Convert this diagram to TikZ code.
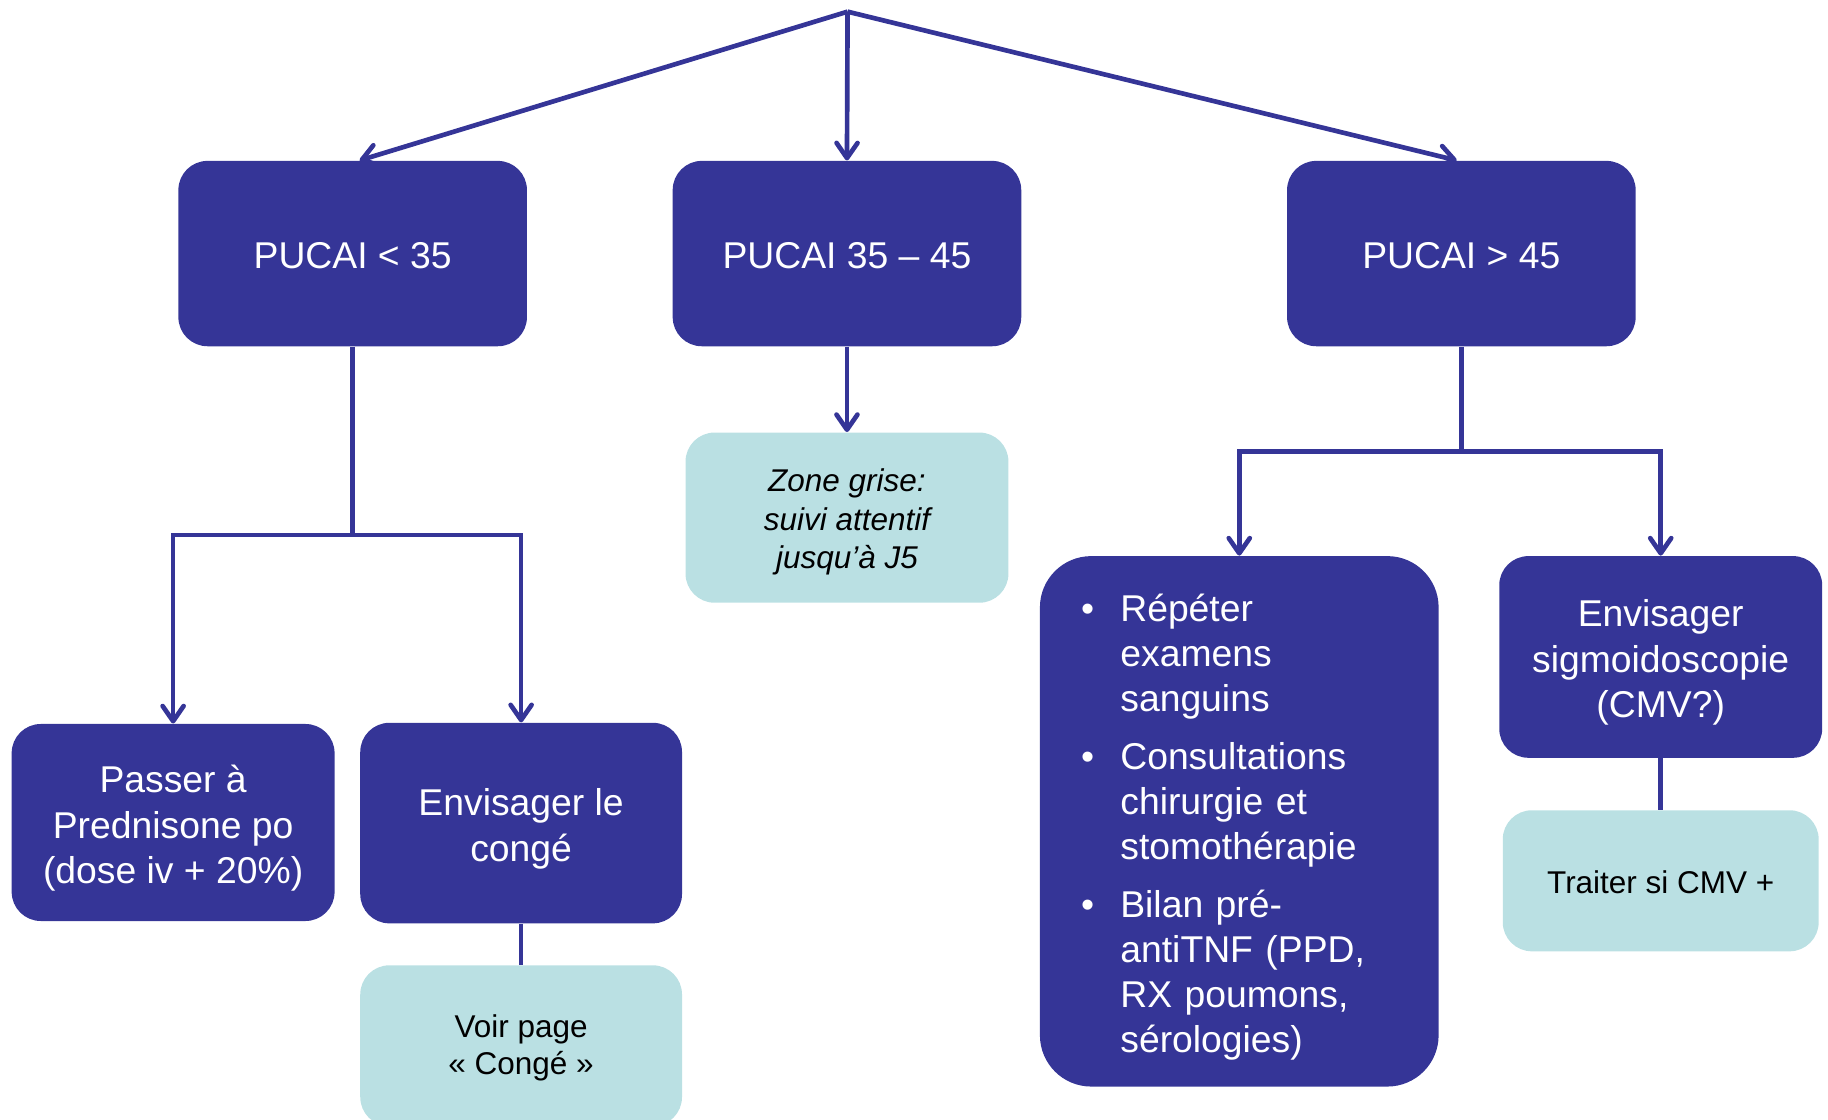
\documentclass[tikz,border=0pt]{standalone}
\usepackage{fontspec}
\setmainfont{Liberation Sans}
\usetikzlibrary{arrows.meta,calc}
\definecolor{navyb}{RGB}{53,53,151}
\definecolor{lteal}{RGB}{186,224,227}
\begin{document}
\begin{tikzpicture}[x=0.5pt,y=-0.5pt,
  dark/.style={rectangle, rounded corners=12.5pt, fill=navyb, inner sep=0pt},
  light/.style={rectangle, rounded corners=12.5pt, fill=lteal, inner sep=0pt},
  darktext/.style={text=white, align=center, inner sep=0pt, font=\fontsize{16}{19.5}\selectfont},
  lighttext/.style={text=black, align=center, inner sep=0pt, font=\fontsize{13.5}{16}\selectfont},
  conn/.style={draw=navyb, line width=2pt},
  arr/.style={conn, -{Straight Barb[length=6.5pt,width=9pt,round]}}]
\useasboundingbox (0,0) rectangle (1568,960);
\clip (0,0) rectangle (1568,960);
\coordinate (top) at (727,10);
% boxes
\node[dark, minimum width=149.5pt, minimum height=79.5pt] (b1) at (302.5,217.5) {};
\node[dark, minimum width=149.5pt, minimum height=79.5pt] (b2) at (726.5,217.5) {};
\node[dark, minimum width=149.5pt, minimum height=79.5pt] (b3) at (1253.5,217.5) {};
\node[dark, minimum width=138.5pt, minimum height=84.5pt] (passer) at (148.5,705.5) {};
\node[dark, minimum width=138pt, minimum height=86pt] (conge) at (447,706) {};
\node[light, minimum width=138pt, minimum height=69pt] (voir) at (447,897) {};
\node[light, minimum width=138.5pt, minimum height=73pt] (zone) at (726.5,444) {};
\node[dark, rounded corners=22pt, minimum width=171pt, minimum height=227.5pt] (bul) at (1063,704.5) {};
\node[dark, minimum width=138.5pt, minimum height=86.5pt] (sigmo) at (1424.5,563.5) {};
\node[light, minimum width=135.5pt, minimum height=60.5pt] (traiter) at (1424.5,755.5) {};
% texts
\node[darktext] (t1) at ($(b1)+(0,2)$) {PUCAI < 35};
\node[darktext] (t2) at ($(b2)+(0,2)$) {PUCAI 35 – 45};
\node[darktext] (t3) at ($(b3)+(0,2)$) {PUCAI > 45};
\node[darktext] (tpasser) at ($(passer)+(0,5)$) {Passer à\\Prednisone po\\(dose iv + 20\%)};
\node[darktext] (tconge) at ($(conge)+(0,5)$) {Envisager le\\congé};
\node[lighttext] (tvoir) at ($(voir)+(0,2)$) {Voir page\\« Congé »};
\node[lighttext, font=\fontsize{13.5}{16.5}\selectfont\itshape] (tzone) at ($(zone)+(0,4)$) {Zone grise:\\suivi attentif\\jusqu’à J5};
\node[darktext, align=left, text width=135.6pt, font=\fontsize{16}{19.25}\selectfont] (tbul) at ($(bul)+(0,5)$)
 {\makebox[16.8pt][l]{\textbullet}Répéter\\
  \hspace*{16.8pt}examens\\
  \hspace*{16.8pt}sanguins\\[5.75pt]
  \makebox[16.8pt][l]{\textbullet}Consultations\\
  \hspace*{16.8pt}chirurgie et\\
  \hspace*{16.8pt}stomothérapie\\[5.75pt]
  \makebox[16.8pt][l]{\textbullet}Bilan pré-\\
  \hspace*{16.8pt}antiTNF (PPD,\\
  \hspace*{16.8pt}RX poumons,\\
  \hspace*{16.8pt}sérologies)};
\node[darktext] (tsigmo) at ($(sigmo)+(0,5)$) {Envisager\\sigmoidoscopie\\(CMV?)};
\node[lighttext] (ttraiter) at ($(traiter)+(0,1)$) {Traiter si CMV +};
% connectors
\coordinate (j1) at (302.5,459);
\coordinate (j3) at (1253.5,387);
\draw[arr] (top) -- ($(b1.north)+(6,0)$);
\draw[arr] (top) -- (b2.north);
\draw[arr] (top) -- ($(b3.north)+(-4,0)$);
\draw[conn] (b1.south) -- (j1);
\draw[arr] (j1) -| (passer.north);
\draw[arr] (j1) -| (conge.north);
\draw[arr] (b2.south) -- (zone.north);
\draw[conn] (conge.south) -- (voir.north);
\draw[conn] (b3.south) -- (j3);
\draw[arr] (j3) -| (bul.north);
\draw[arr] (j3) -| (sigmo.north);
\draw[conn] (sigmo.south) -- (traiter.north);
\end{tikzpicture}
\end{document}
